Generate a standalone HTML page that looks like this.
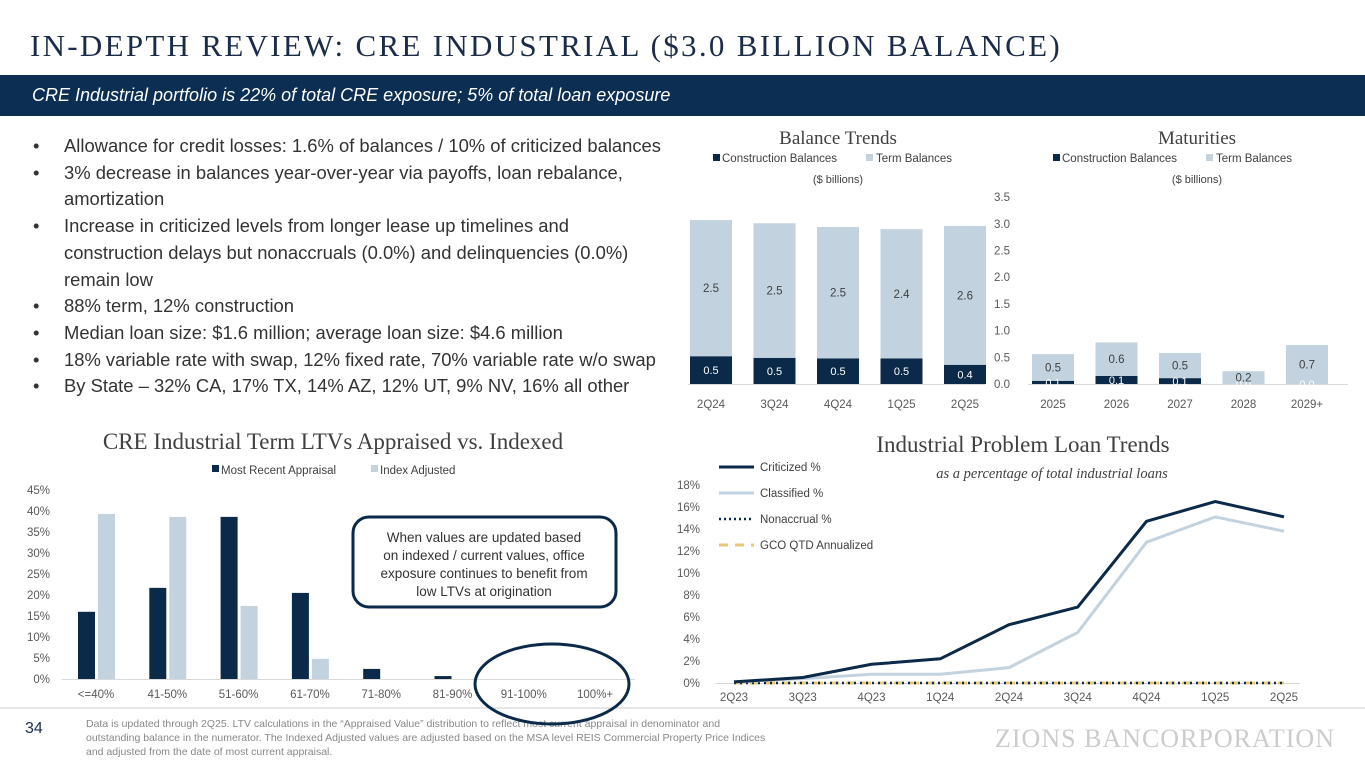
<!DOCTYPE html>
<html><head><meta charset="utf-8"><style>
body{margin:0;width:1365px;height:768px;background:#fff;position:relative;overflow:hidden;font-family:"Liberation Sans",sans-serif;}
.abs{position:absolute;}
#title{left:30px;top:28px;font-family:"Liberation Serif",serif;font-size:31px;letter-spacing:2.3px;color:#1b2c4a;white-space:nowrap;}
#banner{left:0;top:75px;width:1365px;height:41px;background:#0b2e52;}
#banner span{position:absolute;left:32px;top:10px;color:#fff;font-style:italic;font-size:18px;}
ul{position:absolute;left:30px;top:133px;margin:0;padding:0;list-style:none;font-size:18.4px;color:#333;line-height:26.7px;width:640px;}
ul li{padding-left:34px;position:relative;}
ul li:before{content:"•";position:absolute;left:3px;}
svg text{font-family:"Liberation Sans",sans-serif;}
svg text.serif{font-family:"Liberation Serif",serif;}
</style></head><body>
<div id="title" class="abs">IN-DEPTH REVIEW: CRE INDUSTRIAL ($3.0 BILLION BALANCE)</div>
<div id="banner" class="abs"><span>CRE Industrial portfolio is 22% of total CRE exposure; 5% of total loan exposure</span></div>
<ul>
<li>Allowance for credit losses: 1.6% of balances / 10% of criticized balances</li>
<li>3% decrease in balances year-over-year via payoffs, loan rebalance, amortization</li>
<li>Increase in criticized levels from longer lease up timelines and construction delays but nonaccruals (0.0%) and delinquencies (0.0%) remain low</li>
<li>88% term, 12% construction</li>
<li>Median loan size: $1.6 million; average loan size: $4.6 million</li>
<li>18% variable rate with swap, 12% fixed rate, 70% variable rate w/o swap</li>
<li>By State – 32% CA, 17% TX, 14% AZ, 12% UT, 9% NV, 16% all other</li>
</ul>
<svg id="chart" class="abs" style="left:0;top:0" width="1365" height="768">
<line x1="0" y1="708" x2="1365" y2="708" stroke="#ccc" stroke-width="1"/>
<text x="25" y="733" font-size="16" fill="#1b2c4a">34</text>
<text x="86" y="727" font-size="10.5" fill="#888">Data is updated through 2Q25.  LTV calculations in the “Appraised Value” distribution to reflect most current appraisal in denominator and</text>
<text x="86" y="741" font-size="10.5" fill="#888">outstanding balance in the numerator. The Indexed Adjusted values are adjusted based on the MSA level REIS Commercial Property Price Indices</text>
<text x="86" y="755" font-size="10.5" fill="#888">and adjusted from the date of most current appraisal.</text>
<text class="serif" x="1335" y="747" font-size="26" fill="#ccc" text-anchor="end" letter-spacing="1">ZIONS BANCORPORATION</text>
<g id="g"></g>
</svg>
<script>
const balCats=["2Q24","3Q24","4Q24","1Q25","2Q25"];
const balConstr=[0.52,0.49,0.48,0.48,0.36];
const balTerm=[2.55,2.52,2.46,2.42,2.6];
const matCats=["2025","2026","2027","2028","2029+"];
const matConstr=[0.06,0.15,0.11,0,0];
const matTerm=[0.5,0.63,0.47,0.24,0.73];
const balTicks=[0,0.5,1,1.5,2,2.5,3,3.5];
const ltvCats=["<=40%","41-50%","51-60%","61-70%","71-80%","81-90%","91-100%","100%+"];
const ltvAppraisal=[16,21.7,38.6,20.5,2.4,0.7,0,0];
const ltvIndex=[39.3,38.6,17.4,4.8,0,0,0,0];
const ltvTicks=[0,5,10,15,20,25,30,35,40,45];
const plCats=["2Q23","3Q23","4Q23","1Q24","2Q24","3Q24","4Q24","1Q25","2Q25"];
const criticized=[0.1,0.5,1.7,2.2,5.3,6.9,14.7,16.5,15.1];
const classified=[0.1,0.4,0.8,0.8,1.4,4.6,12.8,15.1,13.8];
const nonaccrual=[0,0,0,0,0,0,0,0,0];
const gco=[0,0,0,0,0,0,0,0,0];
const plTicks=[0,2,4,6,8,10,12,14,16,18];

const NS="http://www.w3.org/2000/svg";const G=document.getElementById('g');
function el(t,a,txt){const e=document.createElementNS(NS,t);for(const k in a)e.setAttribute(k,a[k]);if(txt!==undefined)e.textContent=txt;G.appendChild(e);return e;}
const NAVY="#0b2948",LIGHT="#c2d3df";
const by=v=>384-v*53.4;
balTicks.forEach(t=>{const e=el('text',{x:1010,y:by(t)+4,'font-size':11.5,fill:'#595959','text-anchor':'end'},t.toFixed(1));

});
function stack(cats,c,tm,x0,name,bx1,bx2){
 el('line',{x1:bx1,y1:384.5,x2:bx2,y2:384.5,stroke:'#d9d9d9'});
 cats.forEach((cat,i)=>{const cx=x0+i*63.5;
  const r1=el('rect',{x:cx-21,y:by(c[i]),width:42,height:c[i]*53.4,fill:NAVY});
  
  
  const r2=el('rect',{x:cx-21,y:by(c[i]+tm[i]),width:42,height:tm[i]*53.4,fill:LIGHT});
  
  
  el('text',{x:cx,y:by(c[i]/2)+4,'font-size':11,fill:'#fff','text-anchor':'middle'},c[i].toFixed(1));
  el('text',{x:cx,y:by(c[i]+tm[i]/2)+4,'font-size':11.5,fill:'#404040','text-anchor':'middle'},tm[i].toFixed(1));
  el('text',{x:cx,y:408,'font-size':11.5,fill:'#595959','text-anchor':'middle'},cat);
 });
}
stack(balCats,balConstr,balTerm,711,'balance',688,985);
stack(matCats,matConstr,matTerm,1053,'maturity',1028,1348);
[[838,'Balance Trends',713,'($ billions)',783],[1197,'Maturities',1053,'($ billions)',1169]].forEach(([cx,t,lx,s,sx])=>{
 el('text',{x:cx,y:144,'font-size':19,fill:'#404040','text-anchor':'middle',class:'serif'},t);
 el('rect',{x:lx,y:154,width:7,height:7,fill:NAVY});
 el('text',{x:lx+9,y:162,'font-size':11.5,fill:'#404040'},'Construction Balances');
 el('rect',{x:lx+153,y:154,width:7,height:7,fill:LIGHT});
 el('text',{x:lx+163,y:162,'font-size':11.5,fill:'#404040'},'Term Balances');
 el('text',{x:cx,y:183,'font-size':11,fill:'#404040','text-anchor':'middle'},s);
});
const ly=v=>679-v*4.2;
el('text',{x:333,y:449,'font-size':23,fill:'#404040','text-anchor':'middle',class:'serif'},'CRE Industrial Term LTVs Appraised vs. Indexed');
el('rect',{x:212,y:465,width:7,height:7,fill:NAVY});el('text',{x:221,y:474,'font-size':11.5,fill:'#404040'},'Most Recent Appraisal');
el('rect',{x:371,y:465,width:7,height:7,fill:LIGHT});el('text',{x:380,y:474,'font-size':11.5,fill:'#404040'},'Index Adjusted');
ltvTicks.forEach(t=>el('text',{x:50,y:ly(t)+4,'font-size':11.5,fill:'#595959','text-anchor':'end'},t+'%'));
el('line',{x1:62,y1:679.5,x2:635,y2:679.5,stroke:'#d9d9d9'});
ltvCats.forEach((c,i)=>{const cx=96+i*71.3;
 const a=el('rect',{x:cx-18,y:ly(ltvAppraisal[i]),width:17,height:ltvAppraisal[i]*4.2,fill:NAVY});
 
 
 const b=el('rect',{x:cx+2,y:ly(ltvIndex[i]),width:17,height:ltvIndex[i]*4.2,fill:LIGHT});
 
 
 el('text',{x:cx,y:698,'font-size':11.5,fill:'#595959','text-anchor':'middle'},c);
});
el('rect',{x:353,y:517,width:263,height:90,rx:16,fill:'#fff',stroke:NAVY,'stroke-width':3});
['When values are updated based','on indexed / current values, office','exposure continues to benefit from','low LTVs at origination'].forEach((s,i)=>el('text',{x:484,y:542+i*18,'font-size':13.5,fill:'#333','text-anchor':'middle'},s));
el('ellipse',{cx:552,cy:684,rx:77,ry:40,fill:'none',stroke:NAVY,'stroke-width':3});
const px=i=>734+i*68.75, py=v=>683-v*11;
el('text',{x:1023,y:452,'font-size':23,fill:'#404040','text-anchor':'middle',class:'serif'},'Industrial Problem Loan Trends');
el('text',{x:1052,y:478,'font-size':14.5,fill:'#404040','text-anchor':'middle','font-style':'italic',class:'serif'},'as a percentage of total industrial loans');
plTicks.forEach(t=>el('text',{x:700,y:py(t)+4,'font-size':11.5,fill:'#595959','text-anchor':'end'},t+'%'));
el('line',{x1:715,y1:683.5,x2:1300,y2:683.5,stroke:'#d9d9d9'});
plCats.forEach((c,i)=>el('text',{x:px(i),y:701,'font-size':11.5,fill:'#595959','text-anchor':'middle'},c));
function line(d,st,name){const p=el('polyline',Object.assign({points:d.map((v,i)=>px(i)+','+py(v)).join(' '),fill:'none'},st));
 
 }
line(gco,{stroke:'#e8c878','stroke-width':3,'stroke-dasharray':'9 7'},'gco-line');
line(nonaccrual,{stroke:'#0b2948','stroke-width':2.5,'stroke-dasharray':'2 4'},'nonaccrual-line');
line(classified,{stroke:LIGHT,'stroke-width':3},'classified-line');
line(criticized,{stroke:NAVY,'stroke-width':3},'criticized-line');
const lg=[['Criticized %',{stroke:NAVY,'stroke-width':3}],['Classified %',{stroke:LIGHT,'stroke-width':3}],['Nonaccrual %',{stroke:'#0b2948','stroke-width':2.5,'stroke-dasharray':'2 3'}],['GCO QTD Annualized',{stroke:'#e8c878','stroke-width':3,'stroke-dasharray':'9 7'}]];
lg.forEach(([t,s],i)=>{const y=467+i*26;el('line',Object.assign({x1:719,y1:y,x2:754,y2:y},s));el('text',{x:760,y:y+4,'font-size':11.5,fill:'#404040'},t);});
</script>
</body></html>
